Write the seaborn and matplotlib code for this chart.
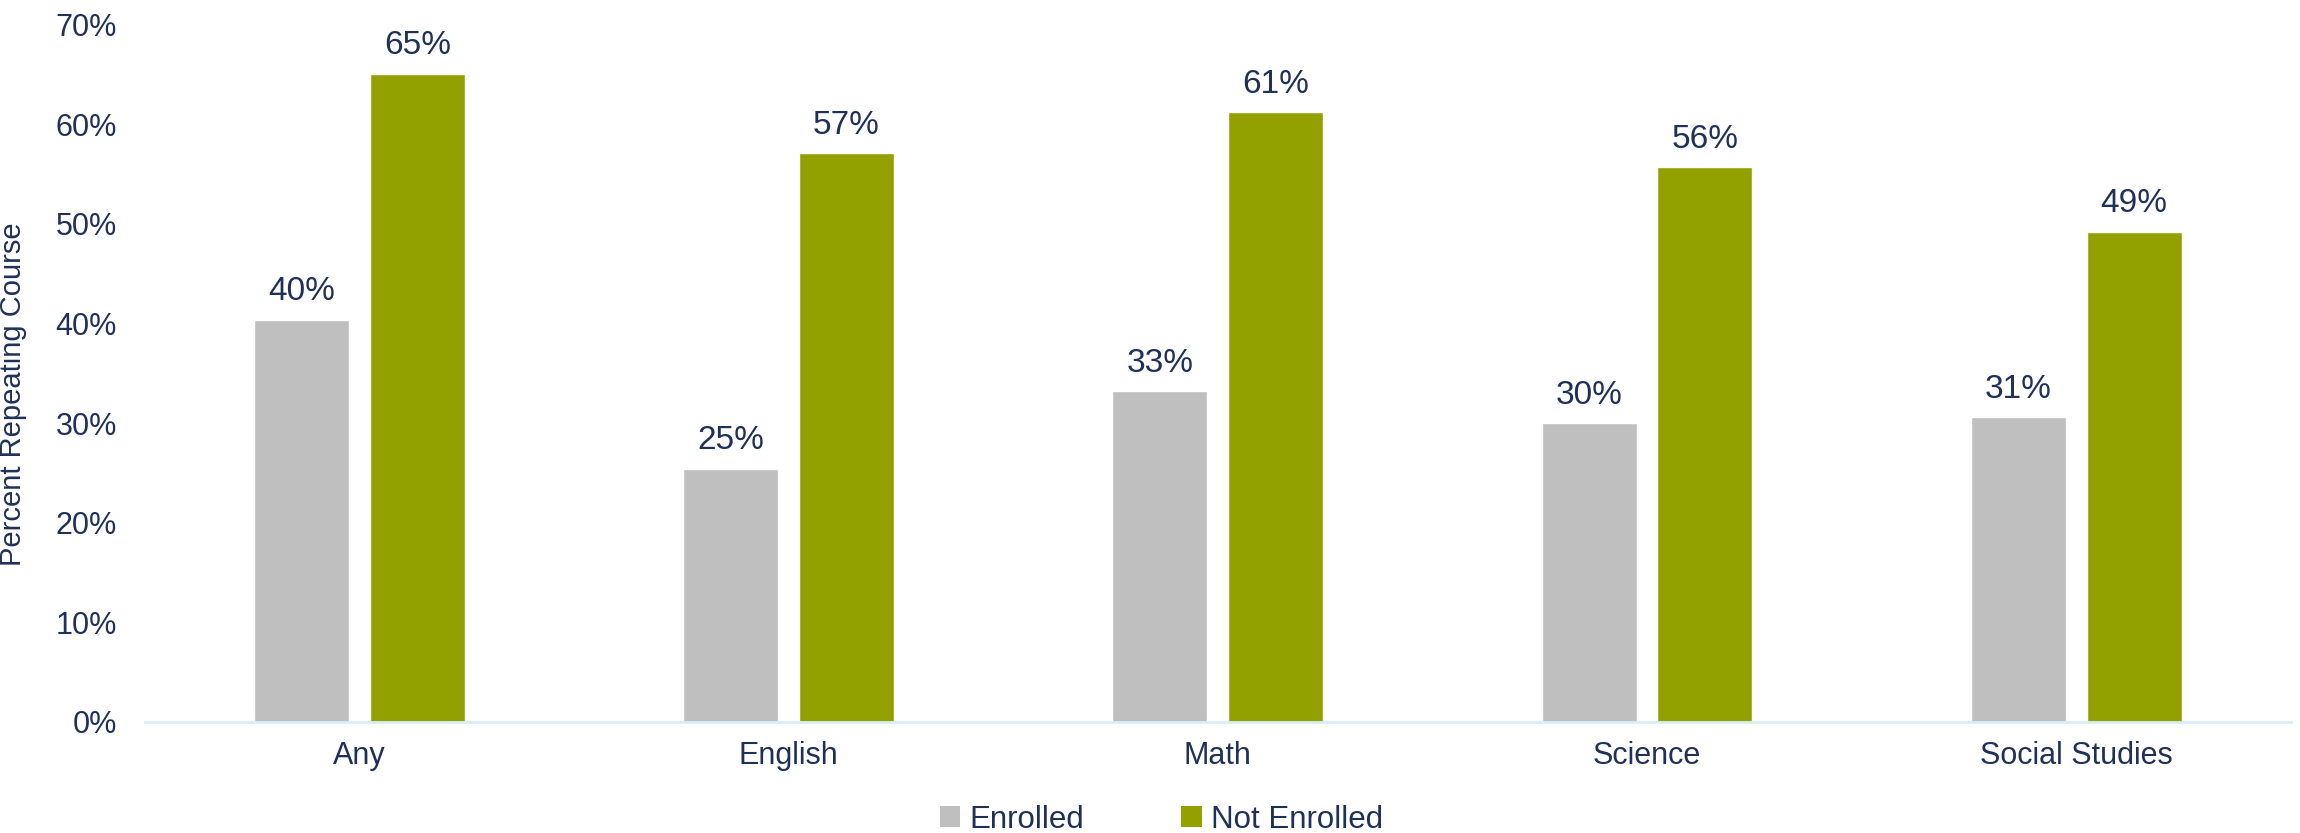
import pandas as pd
import seaborn as sns
import matplotlib.pyplot as plt
from matplotlib.patches import Patch
from matplotlib.ticker import PercentFormatter

# data
subjects = ['Any', 'English', 'Math', 'Science', 'Social Studies']
groups = ['Enrolled', 'Not Enrolled']
enrolled = [0.404, 0.254, 0.332, 0.300, 0.306]
not_enrolled = [0.651, 0.571, 0.612, 0.557, 0.492]
yticks = [0, 0.1, 0.2, 0.3, 0.4, 0.5, 0.6, 0.7]

text_col = '#1F3157'
colors = ['#BFBFBF', '#93A100']

df = pd.DataFrame({
    'Subject': subjects * 2,
    'Group': [groups[0]] * len(subjects) + [groups[1]] * len(subjects),
    'Rate': enrolled + not_enrolled,
})

sns.set_theme(style='white')
plt.rcParams['font.family'] = ['Liberation Sans', 'DejaVu Sans']

fig = plt.figure(figsize=(23, 8.33), dpi=100)
ax = fig.add_axes([0.063, 0.1333, 0.933, 0.837])

sns.barplot(data=df, x='Subject', y='Rate', hue='Group', order=subjects,
            hue_order=groups, palette=colors, width=0.54, gap=0.18,
            saturation=1, legend=False, ax=ax)

for cont in ax.containers:
    labels = [f'{round(b.get_height() * 100)}%' for b in cont]
    ax.bar_label(cont, labels=labels, padding=9, fontsize=24, color=text_col)

ax.set_xlim(-0.5, 4.5)
ax.set_ylim(0, 0.7)
ax.set_yticks(yticks)
ax.yaxis.set_major_formatter(PercentFormatter(1.0, decimals=0))
ax.tick_params(axis='y', length=0, pad=20, labelsize=22, labelcolor=text_col)
ax.tick_params(axis='x', length=0, pad=14, labelsize=22, labelcolor=text_col)
ax.set_xlabel('')
ax.set_ylabel('Percent Repeating Course', fontsize=21, color=text_col)
ax.yaxis.set_label_coords(-0.055, 0.47)

for s in ['top', 'right', 'left']:
    ax.spines[s].set_visible(False)
ax.spines['bottom'].set_color('#D6EEF5')
ax.spines['bottom'].set_linewidth(2)

handles = [Patch(facecolor=c, edgecolor='none') for c in colors]
fig.legend(handles, groups, loc='center', bbox_to_anchor=(0.505, 0.016),
           ncol=2, frameon=False, fontsize=22.5, labelcolor=text_col,
           handlelength=0.65, handleheight=0.65, handletextpad=0.3,
           columnspacing=3.1)

fig.savefig('out.png', dpi=100)
